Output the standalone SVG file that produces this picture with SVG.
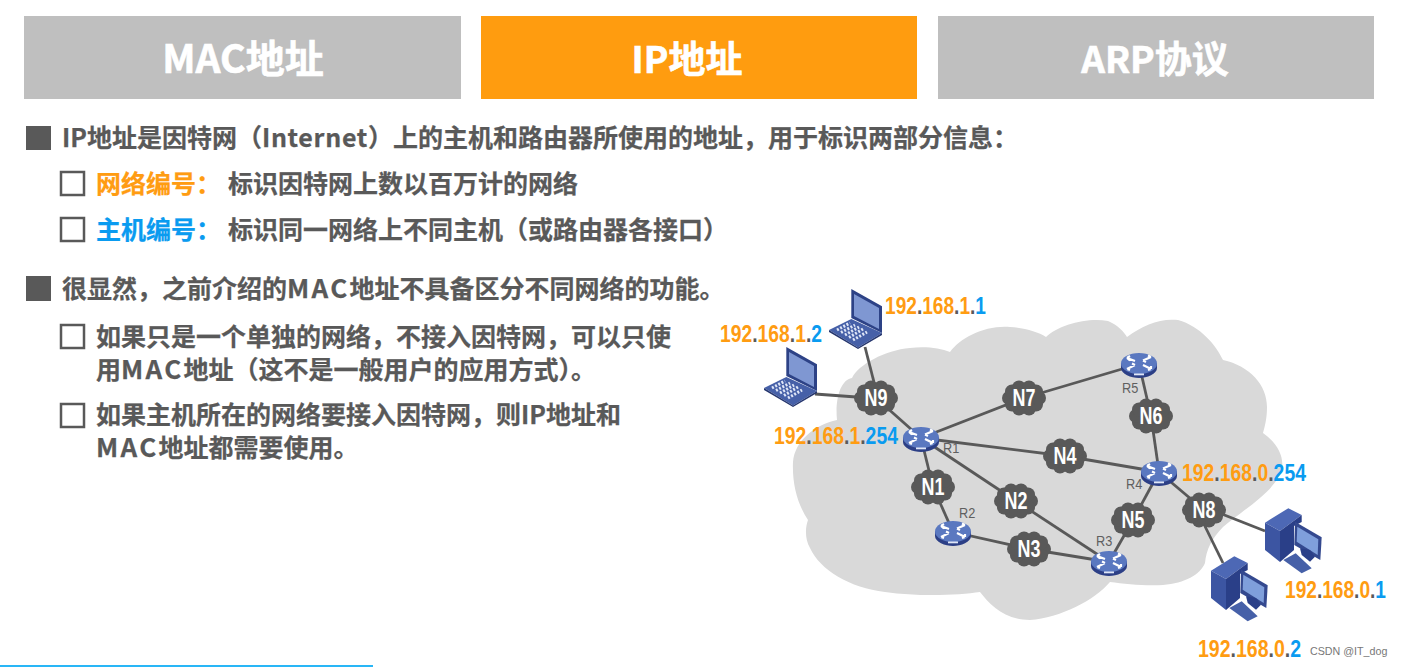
<svg xmlns="http://www.w3.org/2000/svg" width="1402" height="667" viewBox="0 0 1402 667">
<style>
text{font-family:"Noto Sans CJK SC","Noto Sans",sans-serif;font-weight:700}
.tab{font-size:39px;fill:#fff;text-anchor:middle;stroke:#fff;stroke-width:.6}
.t2{font-size:37px}
.b{font-size:25px;fill:#595959;stroke:#595959;stroke-width:.25}
.m{font-size:26px;letter-spacing:2.3px}
.bo{fill:#ff9c12;stroke:#ff9c12}.bc{fill:#0a9bf0;stroke:#0a9bf0}
.c{fill:#0a9bf0}.d{fill:#595959}
.ip{font-family:"Liberation Sans",Arial,sans-serif;font-size:24px;fill:#ff9c12}
.n{font-family:"Liberation Sans",Arial,sans-serif;font-size:23px;fill:#fff;text-anchor:middle}
.r{font-family:"Liberation Sans",Arial,sans-serif;font-weight:400;font-size:15px;fill:#5f5f5f}
.w{font-family:"Liberation Sans",Arial,sans-serif;font-weight:400;font-size:10.7px;fill:#777}
.chk{fill:#fff;stroke:#595959;stroke-width:2.5}
.arr{fill:none;stroke:#fff;stroke-width:2.2}
#links line{stroke:#595959;stroke-width:2.8}
</style>
<defs>
<g id="nc" fill="#595959">
<ellipse rx="17" ry="13"/>
<circle cx="15" cy="0" r="7"/><circle cx="12" cy="6.500" r="7"/><circle cx="5" cy="10.500" r="7"/><circle cx="-5" cy="10.500" r="7"/><circle cx="-12" cy="6.500" r="7"/><circle cx="-15" cy="0" r="7"/><circle cx="-12" cy="-6.500" r="7"/><circle cx="-5" cy="-10.500" r="7"/><circle cx="5" cy="-10.500" r="7"/><circle cx="12" cy="-6.500" r="7"/>
</g>
<g id="rt">
<path d="M-18-1V4C-18 10-8 14 0 14S18 10 18 4V-1Z" fill="#2c3f86"/>
<ellipse cx="0" cy="-.5" rx="18" ry="10.500" fill="#5a78c0"/>
<path class="arr" d="M-12-6L-4-3M-12-6L-9-8M-12-6L-9-3.500M4-3.500L12-7M12-7L9-8.500M4-3.500L7-2M-4 1L-12 5M-12 5L-9 6M-4 1L-7-.500M4 1L12 5M12 5L9 6M12 5L12 2"/>
<rect x="-5" y="9.500" width="10" height="1.800" fill="#dfe6f7"/>
</g>
<g id="lp">
<path d="M22.3 0L53 17.3V44L22.3 29Z" fill="#2d4286"/>
<path d="M25 5L50 19V40L25 27Z" fill="#7f97d2"/>
<path d="M0 41L22.3 30L53 44L29 58.5Z" fill="#4660a8"/>
<path d="M0 41V43L29 60L53 46V44L29 58.5Z" fill="#25366f"/>
<path d="M8 41L21 34M12 43.500L26 36M16 46L30 38M20 48.500L34 40M24 51L38 43" stroke="#dfe6f7" stroke-width="3" stroke-dasharray="2 1.600" fill="none"/>
</g>
<g id="pc">
<path d="M1 14.700L24.300 .3L37.700 7L16 23Z" fill="#4d68b5"/>
<path d="M1 14.700L16 23V54L1 42Z" fill="#3c55a2"/>
<path d="M16 23L37.700 7V14L30 18V42L16 54Z" fill="#2a3f88"/>
<path d="M31 13.700L57.700 29.300L56.300 52L30.300 37Z" fill="#34498f"/>
<path d="M33.300 18.700L54.300 31.300L53.700 47L32.700 33.700Z" fill="#7f9fdb"/>
<path d="M36 40.300L46 42L51 48.700L46 53.700L37.700 47Z" fill="#2a3f88"/>
<path d="M19.300 52L31.700 45.300L47.700 60.300L37.700 65.300Z" fill="#4660a8"/>
</g>
</defs>
<rect width="1402" height="667" fill="#fff"/>
<g id="tabs">
<rect x="24" y="16" width="437" height="83" fill="#bfbfbf"/><text class="tab" x="243" y="73">MAC地址</text>
<rect x="481" y="16" width="436" height="83" fill="#ff9c0f"/><text class="tab t2" x="687" y="73">IP地址</text>
<rect x="938" y="16" width="436" height="83" fill="#bfbfbf"/><text class="tab t2" x="1155" y="73">ARP协议</text>
</g>
<g id="bullets">
<rect x="26" y="126" width="25" height="24" fill="#595959"/>
<text class="b" x="62" y="147">IP地址是因特网（<tspan letter-spacing=".7">Internet</tspan>）上的主机和路由器所使用的地址，用于标识两部分信息：</text>
<rect class="chk" x="61" y="172" width="23" height="23"/>
<text class="b bo" x="96" y="193">网络编号：</text>
<text class="b" x="228" y="193">标识因特网上数以百万计的网络</text>
<rect class="chk" x="61" y="218" width="23" height="23"/>
<text class="b bc" x="96" y="239">主机编号：</text>
<text class="b" x="228" y="239">标识同一网络上不同主机（或路由器各接口）</text>
<rect x="26" y="276" width="25" height="25" fill="#595959"/>
<text class="b" x="62" y="298">很显然，之前介绍的<tspan class="m">MAC</tspan>地址不具备区分不同网络的功能。</text>
<rect class="chk" x="61" y="325" width="23" height="23"/>
<text class="b" x="96" y="346">如果只是一个单独的网络，不接入因特网，可以只使</text>
<text class="b" x="96" y="379">用<tspan class="m">MAC</tspan>地址（这不是一般用户的应用方式）。</text>
<rect class="chk" x="61" y="404" width="23" height="23"/>
<text class="b" x="96" y="424">如果主机所在的网络要接入因特网，则IP地址和</text>
<text class="b" x="96" y="457"><tspan class="m">MAC</tspan>地址都需要使用。</text>
</g>
<path id="cloud" fill="#d9d9d9" d="M793 462C795 440 815 425 837 420C835 400 840 380 852 378C858 365 885 350 910 348C925 346 940 348 950 352C960 338 985 325 1010 327C1025 328 1038 332 1046 337C1058 325 1088 317 1108 321C1118 325 1124 332 1127 337C1143 325 1160 318 1178 320C1200 326 1216 345 1223 360C1250 366 1267 385 1267 407C1267 418 1265 426 1263 433C1276 442 1284 455 1282 468C1278 490 1240 512 1223 527C1212 538 1206 550 1205 563C1200 575 1185 583 1163 585C1145 586 1125 584 1110 582C1095 600 1060 618 1030 620C1005 620 990 605 980 592C960 595 920 597 885 592C850 588 820 570 810 548C805 540 805 528 808 520C798 505 792 485 793 462Z"/>
<g id="links">
<line x1="865" y1="347" x2="876" y2="390"/>
<line x1="815" y1="394" x2="870" y2="398"/>
<line x1="876" y1="398" x2="921" y2="438"/>
<line x1="921" y1="438" x2="1024" y2="398"/>
<line x1="1024" y1="398" x2="1139" y2="364"/>
<line x1="921" y1="438" x2="1065" y2="456"/>
<line x1="1065" y1="456" x2="1159" y2="472"/>
<line x1="921" y1="438" x2="933" y2="487"/>
<line x1="921" y1="438" x2="1016" y2="501"/>
<line x1="933" y1="487" x2="953" y2="532"/>
<line x1="953" y1="532" x2="1029" y2="549"/>
<line x1="1029" y1="549" x2="1109" y2="562"/>
<line x1="1016" y1="501" x2="1109" y2="562"/>
<line x1="1109" y1="562" x2="1133" y2="520"/>
<line x1="1133" y1="520" x2="1159" y2="472"/>
<line x1="1139" y1="364" x2="1151" y2="416"/>
<line x1="1151" y1="416" x2="1159" y2="472"/>
<line x1="1159" y1="472" x2="1204" y2="510"/>
<line x1="1204" y1="507" x2="1265" y2="531"/>
<line x1="1198" y1="512" x2="1223" y2="563"/>
</g>
<g id="N1"><use href="#nc" x="933" y="487"/><text class="n" transform="translate(933 495) scale(.78 1)">N1</text></g>
<g id="N2"><use href="#nc" x="1016" y="501"/><text class="n" transform="translate(1016 509) scale(.78 1)">N2</text></g>
<g id="N3"><use href="#nc" x="1029" y="549"/><text class="n" transform="translate(1029 557) scale(.78 1)">N3</text></g>
<g id="N4"><use href="#nc" x="1065" y="456"/><text class="n" transform="translate(1065 464) scale(.78 1)">N4</text></g>
<g id="N5"><use href="#nc" x="1133" y="520"/><text class="n" transform="translate(1133 528) scale(.78 1)">N5</text></g>
<g id="N6"><use href="#nc" x="1151" y="416"/><text class="n" transform="translate(1151 424) scale(.78 1)">N6</text></g>
<g id="N7"><use href="#nc" x="1024" y="398"/><text class="n" transform="translate(1024 406) scale(.78 1)">N7</text></g>
<g id="N8"><use href="#nc" x="1204" y="510"/><text class="n" transform="translate(1204 518) scale(.78 1)">N8</text></g>
<g id="N9"><use href="#nc" x="876" y="398"/><text class="n" transform="translate(876 406) scale(.78 1)">N9</text></g>
<g id="R1"><use href="#rt" x="921" y="438"/><text class="r" transform="translate(943 453) scale(.85 1)">R1</text></g>
<g id="R2"><use href="#rt" x="953" y="532"/><text class="r" transform="translate(959 518) scale(.85 1)">R2</text></g>
<g id="R3"><use href="#rt" x="1109" y="562"/><text class="r" transform="translate(1096 546) scale(.85 1)">R3</text></g>
<g id="R4"><use href="#rt" x="1159" y="472"/><text class="r" transform="translate(1126 489) scale(.85 1)">R4</text></g>
<g id="R5"><use href="#rt" x="1139" y="364"/><text class="r" transform="translate(1122 393) scale(.85 1)">R5</text></g>
<g id="laptop1"><use href="#lp" x="829" y="289"/></g>
<g id="laptop2"><use href="#lp" x="764" y="347"/></g>
<g id="pc1"><use href="#pc" x="1264" y="508"/></g>
<g id="pc2"><use href="#pc" x="1210" y="556"/></g>
<g id="ips">
<text class="ip" transform="translate(885 314) scale(.797 1)">192<tspan class="d">.</tspan>168<tspan class="d">.</tspan>1<tspan class="d">.</tspan><tspan class="c">1</tspan></text>
<text class="ip" transform="translate(720 342) scale(.805 1)">192<tspan class="d">.</tspan>168<tspan class="d">.</tspan>1<tspan class="d">.</tspan><tspan class="c">2</tspan></text>
<text class="ip" transform="translate(774 444) scale(.808 1)">192<tspan class="d">.</tspan>168<tspan class="d">.</tspan>1<tspan class="d">.</tspan><tspan class="c">254</tspan></text>
<text class="ip" transform="translate(1182 481) scale(.808 1)">192<tspan class="d">.</tspan>168<tspan class="d">.</tspan>0<tspan class="d">.</tspan><tspan class="c">254</tspan></text>
<text class="ip" transform="translate(1285 598) scale(.797 1)">192<tspan class="d">.</tspan>168<tspan class="d">.</tspan>0<tspan class="d">.</tspan><tspan class="c">1</tspan></text>
<text class="ip" transform="translate(1198 657) scale(.813 1)">192<tspan class="d">.</tspan>168<tspan class="d">.</tspan>0<tspan class="d">.</tspan><tspan class="c">2</tspan></text>
</g>
<text class="w" x="1310" y="655">CSDN @IT_dog</text>
<rect x="0" y="665" width="373" height="2" fill="#29b6f6"/>
</svg>
